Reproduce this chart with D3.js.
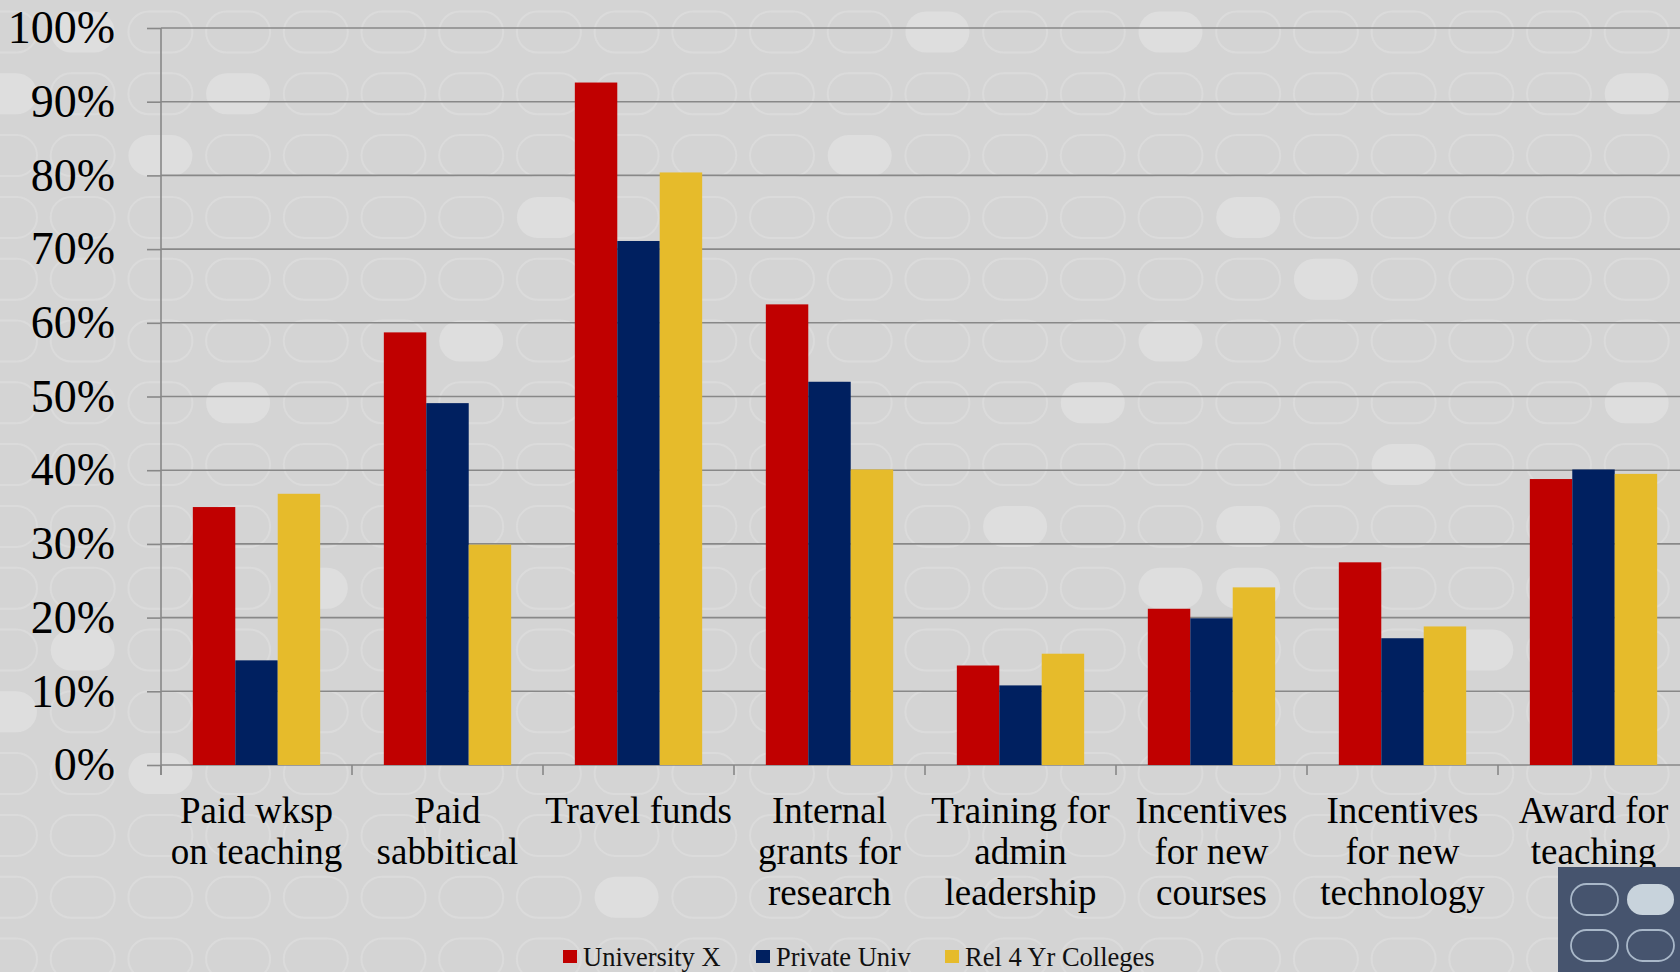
<!DOCTYPE html>
<html>
<head>
<meta charset="utf-8">
<script src="https://cdn.jsdelivr.net/npm/d3@7"></script>
<style>
  body { margin: 0; background: #d4d4d4; overflow: hidden; }
  svg { display: block; font-family: "Liberation Serif", "Times New Roman", serif; }
</style>
</head>
<body>
<svg></svg>
<script>
const size = {w: 1680, h: 972};
const plot = {l: 161, r: 1689, t: 28, b: 765};

// data
const categories = [
    ['Paid wksp', 'on teaching'],
    ['Paid', 'sabbitical'],
    ['Travel funds'],
    ['Internal', 'grants for', 'research'],
    ['Training for', 'admin', 'leadership'],
    ['Incentives', 'for new', 'courses'],
    ['Incentives', 'for new', 'technology'],
    ['Award for', 'teaching']
];
const seriesNames = ['University X', 'Private Univ', 'Rel 4 Yr Colleges'];
const seriesColors = ['#c00000', '#002060', '#e6bb2b'];
const universityX = [35.0, 58.7, 92.6, 62.5, 13.5, 21.2, 27.5, 38.8];
const privateUniv = [14.2, 49.1, 71.1, 52.0, 10.8, 19.9, 17.2, 40.1];
const rel4Yr = [36.8, 29.9, 80.4, 40.1, 15.1, 24.1, 18.8, 39.5];
const yTicks = [0, 10, 20, 30, 40, 50, 60, 70, 80, 90, 100];

// background pills that are filled lighter [col, row]
const filledPills = [[1,0],[0,1],[3,1],[2,2],[7,3],[12,0],[15,0],[11,2],[16,3],[17,4],
    [15,5],[6,5],[3,6],[14,6],[21,6],[18,7],[13,8],[16,8],[15,9],[16,9],[1,10],[19,10],
    [0,11],[2,12],[8,14],[21,1],[4,9]];

const svg = d3.select('svg')
    .attr('width', size.w)
    .attr('height', size.h);

drawBackground();

const x0 = d3.scaleBand()
    .domain(d3.range(categories.length))
    .range([plot.l, plot.r]);

const x1 = d3.scaleBand()
    .domain(seriesNames)
    .range([0, x0.bandwidth()])
    .paddingOuter(0.75);

const y = d3.scaleLinear()
    .domain([0, 100])
    .range([plot.b, plot.t]);

// gridlines
svg.append('g').classed('grid', true)
    .selectAll('line')
    .data(yTicks)
    .enter()
    .append('line')
    .attr('x1', plot.l)
    .attr('x2', size.w)
    .attr('y1', d => y(d))
    .attr('y2', d => y(d))
    .attr('stroke', '#888')
    .attr('stroke-width', 1.6);

// y axis
let yAxis = svg.append('g')
    .attr('transform', `translate(${plot.l},0)`)
    .call(d3.axisLeft(y).tickValues(yTicks).tickSize(14).tickPadding(32)
        .tickFormat(d => d + '%'));
yAxis.select('.domain').attr('stroke', '#888').attr('stroke-width', 1.6)
    .attr('d', `M0,${plot.t}V${plot.b + 10}`);
yAxis.selectAll('.tick line').attr('stroke', '#888').attr('stroke-width', 1.6);
yAxis.selectAll('.tick text')
    .attr('fill', '#000')
    .style('font-family', '"Liberation Serif", serif')
    .style('font-size', '46px');

// x axis ticks at category boundaries
svg.append('g').classed('xticks', true)
    .selectAll('line')
    .data(d3.range(categories.length + 1))
    .enter()
    .append('line')
    .attr('x1', d => plot.l + d * x0.step())
    .attr('x2', d => plot.l + d * x0.step())
    .attr('y1', plot.b)
    .attr('y2', plot.b + 10)
    .attr('stroke', '#888')
    .attr('stroke-width', 1.6);

// bars
const allSeries = [universityX, privateUniv, rel4Yr];
let groups = svg.append('g').classed('bars', true)
    .selectAll('g')
    .data(categories.map((c, i) => i))
    .enter()
    .append('g')
    .attr('transform', i => `translate(${x0(i)},0)`);

groups.selectAll('rect')
    .data(i => seriesNames.map((s, k) => ({s: s, k: k, v: allSeries[k][i]})))
    .enter()
    .append('rect')
    .attr('x', d => x1(d.s))
    .attr('width', x1.bandwidth())
    .attr('y', d => y(d.v))
    .attr('height', d => y(0) - y(d.v))
    .attr('fill', d => seriesColors[d.k]);

// category labels
let labels = svg.append('g').classed('xlabels', true)
    .selectAll('text')
    .data(categories)
    .enter()
    .append('text')
    .attr('x', (d, i) => x0(i) + x0.bandwidth() / 2)
    .attr('y', 823)
    .attr('text-anchor', 'middle')
    .style('font-size', '37px')
    .attr('fill', '#000');

labels.selectAll('tspan')
    .data(d => d)
    .enter()
    .append('tspan')
    .attr('x', function() { return this.parentNode.getAttribute('x'); })
    .attr('dy', (d, i) => i === 0 ? 0 : 41)
    .text(d => d);

// legend
const legendX = [563, 756, 945];
let legend = svg.append('g').classed('legend', true)
    .selectAll('g')
    .data(seriesNames)
    .enter()
    .append('g')
    .attr('transform', (d, i) => `translate(${legendX[i]},950)`);

legend.append('rect')
    .attr('width', 14)
    .attr('height', 13)
    .attr('fill', (d, i) => seriesColors[i]);

legend.append('text')
    .attr('x', 20)
    .attr('y', 15.5)
    .style('font-size', '26.5px')
    .attr('fill', '#111')
    .text(d => d);

// corner logo box
let logo = svg.append('g').attr('transform', 'translate(1558,867)');
logo.append('rect')
    .attr('width', size.w - 1558)
    .attr('height', size.h - 867)
    .attr('fill', '#46546e');
const logoPills = [[13, 17, false], [69, 17, true], [13, 63, false], [69, 63, false]];
logo.selectAll('.lp')
    .data(logoPills)
    .enter()
    .append('rect')
    .attr('x', d => d[0])
    .attr('y', d => d[1])
    .attr('width', 47)
    .attr('height', 31)
    .attr('rx', 15.5)
    .attr('fill', d => d[2] ? '#c8d3dc' : 'none')
    .attr('stroke', d => d[2] ? 'none' : '#a9b8c9')
    .attr('stroke-width', 1.8);

function drawBackground() {
    const colStep = 77.7, rowStep = 61.8, pw = 64, ph = 41;
    let cells = [];
    for (let r = 0; r < 16; r++) {
        for (let c = 0; c < 23; c++) {
            let filled = filledPills.some(p => p[0] === c && p[1] === r);
            cells.push({c: c, r: r, filled: filled});
        }
    }
    svg.append('rect')
        .attr('width', size.w)
        .attr('height', size.h)
        .attr('fill', '#d4d4d4');
    svg.append('g').classed('pills', true)
        .selectAll('rect')
        .data(cells)
        .enter()
        .append('rect')
        .attr('x', d => 5 + d.c * colStep - pw / 2)
        .attr('y', d => 32 + d.r * rowStep - ph / 2)
        .attr('width', pw)
        .attr('height', ph)
        .attr('rx', ph / 2)
        .attr('fill', d => d.filled ? '#dedede' : 'none')
        .attr('stroke', d => d.filled ? 'none' : '#dbdbdb')
        .attr('stroke-width', 2);
}
</script>
</body>
</html>
